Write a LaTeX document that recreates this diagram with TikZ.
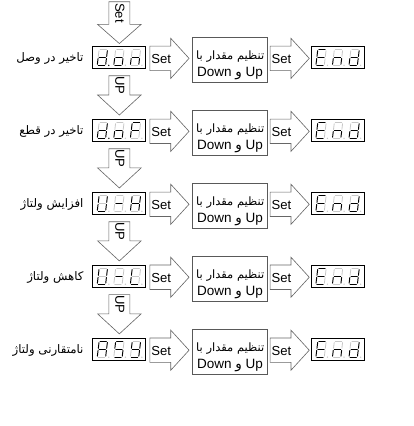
\documentclass[tikz,border=0pt]{standalone}
\usepackage{fontspec}
\setmainfont{Liberation Sans}
\newfontfamily\fa[Script=Arabic]{DejaVu Sans}
\TeXXeTstate=1
\tikzset{
  arr/.style={draw=black!60, fill=white, line width=0.7pt, line join=miter},
  dispbox/.style={draw=black, line width=0.8pt, fill=white},
  tbox/.style={draw=black!65, line width=0.7pt, fill=white},
  settxt/.style={font=\fontsize{15}{16}\selectfont, inner sep=0pt},
  lab/.style={font=\fontsize{13.5}{15}\selectfont\fa, inner sep=0pt, anchor=east},
  s1/.style={draw=black, line width=1.1pt, line cap=round},
  s0/.style={draw=black!22, line width=0.9pt, line cap=round},
  p1/.style={fill=black},
  p0/.style={fill=black!22},
}
\def\segdraw#1#2#3#4#5#6#7{%
  \begin{scope}[shift={(\segx,\segy)},xslant=0.12]
    \draw[s#1] (-3.6,-9) -- (3.6,-9);
    \draw[s#2] (4.8,-7.8) -- (4.8,-1.2);
    \draw[s#3] (4.8,1.2) -- (4.8,7.8);
    \draw[s#4] (-3.6,9) -- (3.6,9);
    \draw[s#5] (-4.8,1.2) -- (-4.8,7.8);
    \draw[s#6] (-4.8,-7.8) -- (-4.8,-1.2);
    \draw[s#7] (-3.6,0) -- (3.6,0);
  \end{scope}}
\newcommand\sdig[4]{\def\segx{#1}\def\segy{#2}\edef\segcode{#3}\expandafter\segdraw\segcode
  \fill[p#4] ({#1+7.4},{#2+9}) circle (0.85);}
\def\Cd{0111101}\def\Co{0011101}\def\Cn{0010101}\def\CF{1000111}
\def\CU{0111110}\def\Cm{0000001}\def\CH{0110111}\def\CL{0001110}
\def\CA{1110111}\def\CS{1011011}\def\CY{0111011}\def\CE{1001111}
% display: name, left x, center y, three codes, first dp
\newcommand\disp[7]{%
  \node[dispbox, minimum width=61pt, minimum height=26pt, inner sep=0pt, anchor=west] (#1) at (#2,#3) {};
  \sdig{#2+11.5}{#3}{#4}{#7}\sdig{#2+30.5}{#3}{#5}{0}\sdig{#2+49.5}{#3}{#6}{0}}
% right set arrow: name, x0, yc
\newcommand\rarr[3]{%
  \draw[arr] (#2,#3-14) -- (#2+24,#3-14) -- (#2+24,#3-23) -- (#2+45,#3) -- (#2+24,#3+23) -- (#2+24,#3+14) -- (#2,#3+14) -- cycle;
  \node[settxt] (#1) at (#2+13,#3+0.5) {Set};}
% down arrow: name, cx, ytop, yhead, ytip, text
\newcommand\darr[6]{%
  \draw[arr] (#2-12,#3) -- (#2+12,#3) -- (#2+12,#4) -- (#2+25,#4) -- (#2,#5) -- (#2-25,#4) -- (#2-12,#4) -- cycle;
  \node[settxt, rotate=-90] (#1) at (#2+0.5,{(#3+#4)/2}) {#6};}
% text box: name, yc
\newcommand\tbx[2]{%
  \node[tbox, minimum width=86pt, minimum height=52pt, inner sep=0pt] (#1) at (264,#2+3) {};
  \node[font=\fontsize{13.2}{15}\selectfont\fa, inner sep=0pt, anchor=east] (#1a) at (303.5,#2-3) {\beginR تنظیم مقدار با\endR};
  \node[font=\fontsize{15.5}{16}\selectfont, inner sep=0pt] (#1b) at (264,#2+17) {Down {\fa و} Up};}
\begin{document}
\begin{tikzpicture}[x=1pt,y=-1pt]
\useasboundingbox (0,0) rectangle (475,489);
\darr{topset}{137}{2}{28}{50}{Set}
\foreach \i/\yc/\ca/\cb/\cc/\dp/\txt in {
  1/66/\Cd/\Co/\Cn/1/{تاخیر در وصل},
  2/149.75/\Cd/\Co/\CF/1/{تاخیر در قطع},
  3/233.5/\CU/\Cm/\CH/0/{افزایش ولتاژ},
  4/317.25/\CU/\Cm/\CL/0/{کاهش ولتاژ},
  5/401/\CA/\CS/\CY/0/{نامتقارنی ولتاژ}}{
  \disp{disp\i}{106}{\yc}{\ca}{\cb}{\cc}{\dp}
  \node[lab] (lab\i) at (96,\yc) {\beginR\txt\endR};
  \rarr{seta\i}{172}{\yc+1}
  \tbx{tb\i}{\yc}
  \rarr{setb\i}{310}{\yc+1}
  \disp{end\i}{357}{\yc}{\CE}{\Cn}{\Cd}{0}
}
\foreach \i/\yc in {1/66,2/149.75,3/233.5,4/317.25}{
  \darr{up\i}{137}{\yc+21}{\yc+43}{\yc+66}{UP}
}
\end{tikzpicture}
\end{document}
